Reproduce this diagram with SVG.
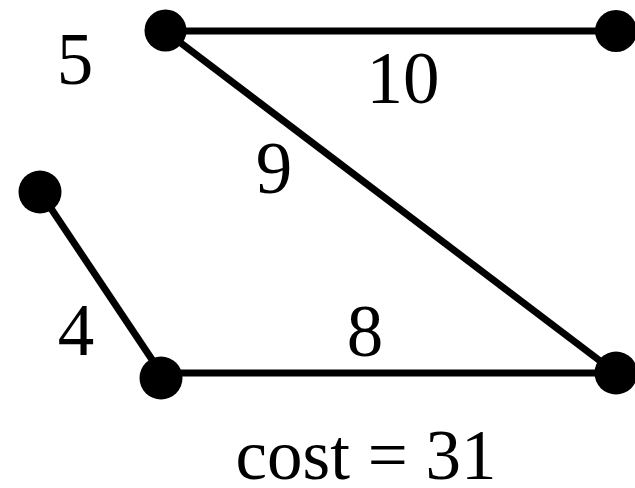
<svg xmlns="http://www.w3.org/2000/svg" width="635" height="488" viewBox="0 0 635 488">
<style>
.edge{stroke:#000;stroke-width:7;fill:none}
.node{fill:#000}
.lbl{font-family:"Liberation Serif","Times New Roman",serif;font-size:73px;fill:#000;text-anchor:middle}
</style>
<rect width="635" height="488" fill="#fff"/>
<g id="connectors">
<line class="edge" x1="165" y1="31" x2="616" y2="31"/>
<line class="edge" x1="165" y1="31" x2="616" y2="373"/>
<line class="edge" x1="40" y1="192" x2="161" y2="373"/>
<line class="edge" x1="161" y1="373" x2="616" y2="373"/>
</g>
<g id="n1"><circle class="node" cx="165.5" cy="30.5" r="21"/></g>
<g id="n2"><circle class="node" cx="616" cy="31" r="21"/></g>
<g id="n3"><circle class="node" cx="40" cy="192" r="21.5"/></g>
<g id="n4"><circle class="node" cx="161" cy="378" r="21.5"/></g>
<g id="n5"><circle class="node" cx="616" cy="373" r="21.5"/></g>
<g id="labels">
<text class="lbl" x="75" y="84">5</text>
<text class="lbl" x="403" y="103">10</text>
<text class="lbl" x="274" y="193">9</text>
<text class="lbl" x="76" y="355">4</text>
<text class="lbl" x="365" y="356">8</text>
<text class="lbl" x="366" y="479" style="font-size:71px">cost = 31</text>
</g>
</svg>
